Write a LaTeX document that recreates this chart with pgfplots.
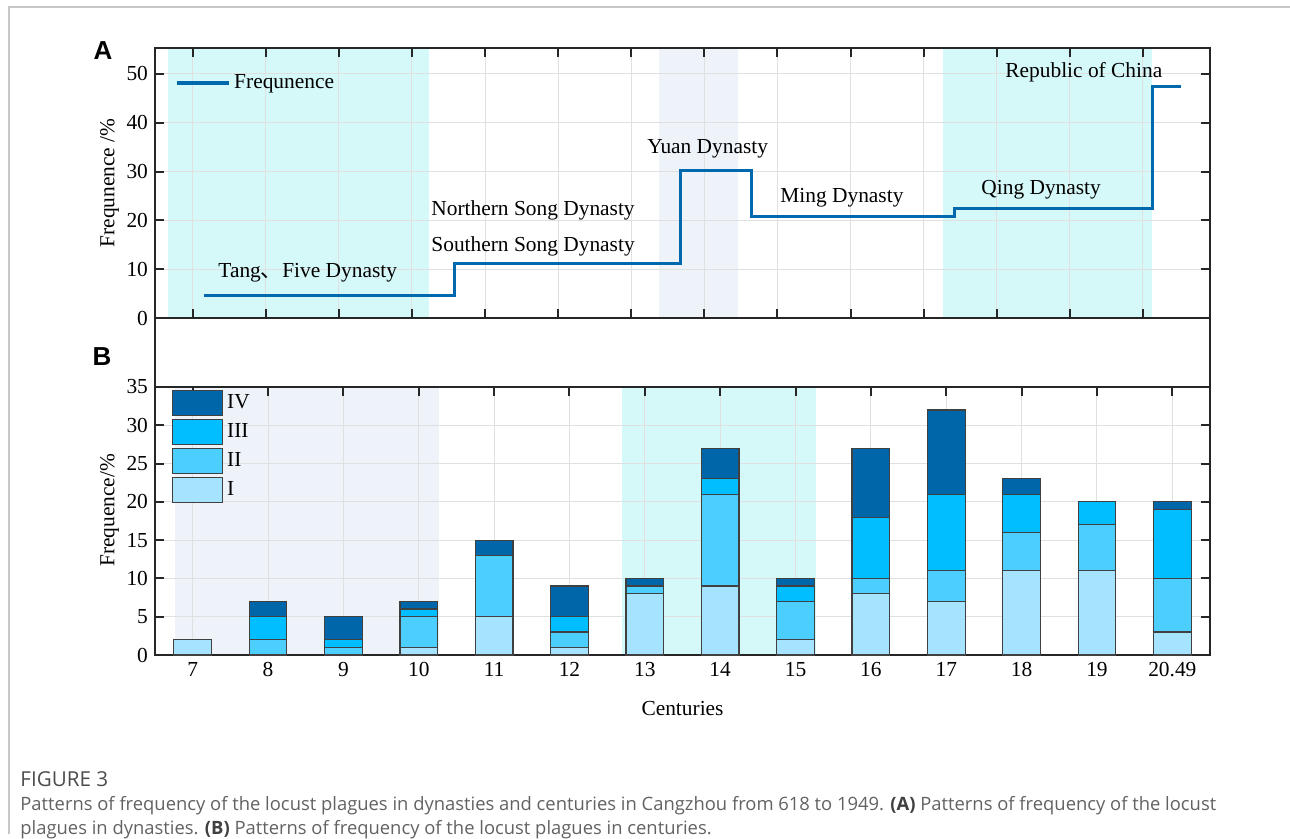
\documentclass[border=0pt]{standalone}
\usepackage{pgfplots}
\usepackage{pgfplotstable}
\pgfplotsset{compat=1.18}
\usepackage{fontspec}
\setmainfont{Liberation Serif}
\newfontfamily\capfont{Open Sans}
\newfontfamily\panelfont{Liberation Sans}
\newfontfamily\cjk{Noto Sans CJK SC}

\definecolor{lvI}{HTML}{A5E3FF}
\definecolor{lvII}{HTML}{4CCFFF}
\definecolor{lvIII}{HTML}{00BEFF}
\definecolor{lvIV}{HTML}{0066AA}
\definecolor{freqline}{HTML}{0068AD}
\definecolor{bandcyan}{HTML}{D5F8F8}
\definecolor{bandgrey}{HTML}{EEF3FA}
\definecolor{gridgrey}{HTML}{E0E0E0}
\definecolor{capgrey}{HTML}{626262}
\definecolor{framegrey}{HTML}{C8C8C8}

% locust plague frequency by century and grade
\pgfplotstableread{
x  I  II III IV
0  2  0  0  0
1  0  2  3  2
2  0  1  1  3
3  1  4  1  1
4  5  8  0  2
5  1  2  2  4
6  8  1  0  1
7  9 12  2  4
8  2  5  2  1
9  8  2  8  9
10 7  4 10 11
11 11 5  5  2
12 11 6  3  0
13 3  7  9  1
}\centurydata

% dynasty steps (x in century index units)
\pgfplotstableread{
x      f
0.15   4.7
3.47   11.2
6.47   30.2
7.42   20.8
10.11  22.5
12.74  47.4
13.11  47.4
}\dynastydata

\newcommand\lbl{\fontsize{10.7}{12.5}\selectfont}

\pgfplotsset{
  layers/ticksover/.define layer set={axis background,axis grid,pre main,main,axis ticks,axis lines,axis tick labels,axis descriptions,axis foreground}{},
  panel/.style={
    scale only axis, width=527.5pt,
    xmin=-0.5, xmax=13.5, enlargelimits=false,
    axis line style={line width=1pt, black!85},
    major tick style={line width=1pt, black!85},
    major tick length=4.5pt,
    grid=major, major grid style={line width=0.5pt, gridgrey},
    tick label style={font=\lbl},
    label style={font=\lbl},
    /pgf/number format/assume math mode=true,
    set layers=ticksover,
  },
  bands/.style={
    scale only axis, width=527.5pt, hide axis,
    xmin=-0.5, xmax=13.5, enlargelimits=false,
  },
}

\begin{document}
\begin{tikzpicture}
\begin{scope}[x=0.5pt,y=-0.5pt]
\useasboundingbox (0,0) rectangle (1290,834);
\draw[framegrey, line width=0.8pt] (9,834) -- (9,7) -- (1290,7);
\end{scope}

% ---------- panel A: dynasties ----------
\begin{axis}[bands, at={(77.5pt,-159pt)}, anchor=south west, height=135pt,
  ymin=0, ymax=55.3]
\addplot[fill=bandcyan, draw=none] coordinates {(-0.33,55.3) (3.14,55.3)} \closedcycle;
\addplot[fill=bandgrey, draw=none] coordinates {(6.19,55.3) (7.24,55.3)} \closedcycle;
\addplot[fill=bandcyan, draw=none] coordinates {(9.96,55.3) (12.73,55.3)} \closedcycle;
\end{axis}

\begin{axis}[panel, at={(77.5pt,-159pt)}, anchor=south west, height=135pt,
  ymin=0, ymax=55.3, ytick={0,10,...,50},
  xtick={0,0.97,1.94,2.91,3.88,4.85,5.82,6.79,7.76,8.73,9.70,10.67,11.64,12.61},
  xticklabels={},
  ylabel={Frequnence /\%},
  ylabel style={at={(axis description cs:-0.043,0.5)}, anchor=center},
  legend style={at={(axis description cs:0.019,0.870)}, anchor=west,
    draw=none, fill=none, inner sep=0pt, outer sep=0pt, font=\lbl},
  legend image code/.code={\draw[#1, line width=1.6pt] (0pt,0pt) -- (26pt,0pt);},
]
\addplot[const plot, freqline, line width=1.5pt] table[x=x, y=f] {\dynastydata};
\addlegendentry{Frequnence}
\end{axis}

% ---------- panel B: centuries ----------
\begin{axis}[bands, at={(77.5pt,-327.5pt)}, anchor=south west, height=134pt,
  ymin=0, ymax=35]
\addplot[fill=bandgrey, draw=none] coordinates {(-0.235,35) (3.27,35)} \closedcycle;
\addplot[fill=bandcyan, draw=none] coordinates {(5.70,35) (8.27,35)} \closedcycle;
\end{axis}

\begin{axis}[panel, at={(77.5pt,-327.5pt)}, anchor=south west, height=134pt,
  ymin=0, ymax=35, ytick={0,5,...,35},
  xtick={0,...,13},
  xticklabels={7,8,9,10,11,12,13,14,15,16,17,18,19,20.49},
  ybar stacked, bar width=0.5,
  ylabel={Frequence/\%},
  ylabel style={at={(axis description cs:-0.043,0.54)}, anchor=center},
  xlabel={Centuries},
  xlabel style={at={(axis description cs:0.5,-0.198)}, anchor=center},
  every axis plot/.append style={draw=black!75, line width=0.6pt},
  reverse legend,
  legend style={at={(axis description cs:0.0161,0.778)}, anchor=west,
    draw=none, fill=none, inner sep=0pt, outer sep=0pt, font=\lbl,
    row sep=1.35pt},
  legend cell align=left,
  legend image code/.code={\draw[#1, draw=black!75, line width=0.6pt] (0pt,-6.25pt) rectangle (25pt,6.25pt);},
]
\addplot[fill=lvI]   table[x=x, y=I]   {\centurydata};
\addplot[fill=lvII]  table[x=x, y=II]  {\centurydata};
\addplot[fill=lvIII] table[x=x, y=III] {\centurydata};
\addplot[fill=lvIV]  table[x=x, y=IV]  {\centurydata};
\legend{I,II,III,IV}
\end{axis}

\begin{scope}[x=0.5pt,y=-0.5pt]
% empty strip between the two panels
\draw[line width=1pt, black!85] (155,318) rectangle (1210,387);

% dynasty names
\begin{scope}[every node/.style={anchor=base west, inner sep=0pt, font=\lbl}]
\node at (218,278) {Tang{\cjk 、}Five Dynasty};
\node at (431,216) {Northern Song Dynasty};
\node at (431,252) {Southern Song Dynasty};
\node at (647,154) {Yuan Dynasty};
\node at (780,203) {Ming Dynasty};
\node at (981,195) {Qing Dynasty};
\node at (1005,78) {Republic of China};
\end{scope}

% panel letters
\node[font=\panelfont\bfseries\fontsize{13}{15}\selectfont] at (103,51) {A};
\node[font=\panelfont\bfseries\fontsize{13}{15}\selectfont] at (102,357) {B};

% caption
\begin{scope}[every node/.style={anchor=base west, inner sep=0pt, text=capgrey}]
\node[font=\capfont\fontsize{10.3}{12}\selectfont, text=black!70] at (20,786) {FIGURE 3};
\node[font=\capfont\fontsize{9.2}{11}\selectfont] at (20,810) {Patterns of frequency of the locust plagues in dynasties and centuries in Cangzhou from 618 to 1949. {\bfseries\color{black!75}(A)} Patterns of frequency of the locust};
\node[font=\capfont\fontsize{9.2}{11}\selectfont] at (20,834) {plagues in dynasties. {\bfseries\color{black!75}(B)} Patterns of frequency of the locust plagues in centuries.};
\end{scope}
\end{scope}
\end{tikzpicture}
\end{document}
